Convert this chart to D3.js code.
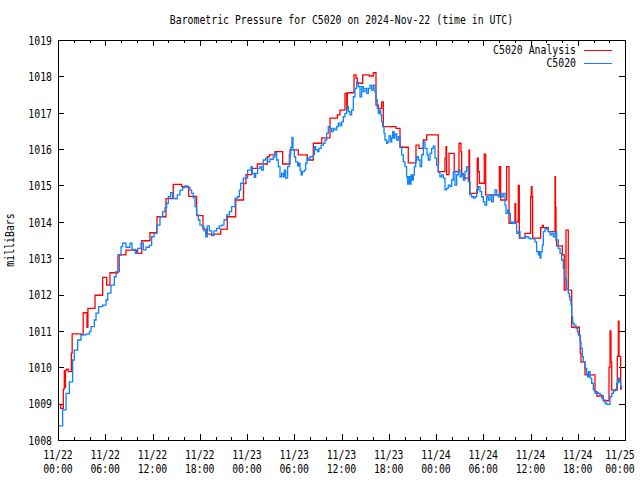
<!DOCTYPE html>
<html><head><meta charset="utf-8">
<script src="https://cdn.jsdelivr.net/npm/d3@7"></script>
<style>
body{margin:0;background:#fff;}
svg{display:block;background:#fff;}
text{font-family:"DejaVu Sans Mono",monospace;font-size:12px;fill:#000;}
</style></head><body>
<svg id="c" width="640" height="480"></svg>
<script>
const title = "Barometric Pressure for C5020 on 2024-Nov-22 (time in UTC)";
const yLabel = "milliBars";
const seriesNames = ["C5020 Analysis", "C5020"];
const seriesColors = ["#ff0000", "#0a84ff"];
const xTickHours = [0, 6, 12, 18, 24, 30, 36, 42, 48, 54, 60, 66, 72];
const xTickDates = ["11/22","11/22","11/22","11/22","11/23","11/23","11/23","11/23","11/24","11/24","11/24","11/24","11/25"];
const xTickTimes = ["00:00","06:00","12:00","18:00","00:00","06:00","12:00","18:00","00:00","06:00","12:00","18:00","00:00"];
const xMinorHours = [2,4,8,10,14,16,20,22,26,28,32,34,38,40,44,46,50,52,56,58,62,64,68,70];
const yTicks = [1008,1009,1010,1011,1012,1013,1014,1015,1016,1017,1018,1019];

// [hours since 2024-11-22 00:00 UTC, mb] — analysis (step values)
const analysis = [
[0,1008.98],[0.34,1008.87],[0.68,1009.4],[0.8,1009.9],[0.85,1009.45],[0.95,1009.92],[1.1,1009.95],[1.3,1009.88],[1.7,1010.39],[1.8,1010.92],[2.92,1010.9],[3.2,1011.5],[3.68,1011.1],[3.8,1011.62],[4.7,1011.98],[5.67,1012.47],[6.18,1012.26],[6.6,1012.6],[7.62,1013.09],[8.63,1013.22],[9.99,1013.13],[10.63,1013.48],[11.68,1013.7],[12.57,1014.14],[13.71,1014.64],[14.64,1015.03],[15.71,1014.97],[16.6,1014.7],[17.6,1014.17],[18.41,1013.8],[18.88,1013.66],[20.66,1013.8],[21.5,1014.14],[22.57,1014.6],[23.56,1015.05],
[23.87,1015.3],[24.6,1015.47],[25.31,1015.59],[26.58,1015.79],[26.83,1015.84],[27.56,1015.93],[28.53,1015.59],[29.46,1015.98],[30.51,1015.84],[31.66,1015.7],[32.42,1016.16],[33.49,1016.31],[34.54,1016.85],[35.47,1016.94],[35.81,1017.07],[36.44,1017.53],[36.66,1017.1],[36.74,1017.55],[37.59,1018.04],[37.84,1017.95],[38.01,1017.81],[38.69,1018.04],[39.53,1018.01],[40.04,1018.1],[40.38,1017.21],[40.67,1017.12],[41.1,1017.3],[41.31,1016.62],[42.92,1016.57],[43.43,1016.05],[44.48,1015.62],[45.46,1016.11],[45.84,1016.02],[46.39,1016.25],[46.82,1016.39],[48.29,1015.38],
[49.14,1015.75],[49.27,1016.07],[49.35,1015.3],[49.65,1015.88],[50.32,1015.38],[50.92,1016.16],[51.17,1015.93],[51.26,1015.29],[51.59,1015.2],[52.19,1015.97],[52.27,1014.78],[53.24,1015.75],[53.37,1015.38],[53.5,1015.06],[54.13,1015.86],[54.31,1014.74],[56.04,1015.52],[56.21,1014.6],[56.97,1015.52],[57.27,1013.96],[58.03,1014.5],[58.12,1014.0],[58.45,1015.0],[58.58,1013.55],[59.3,1013.68],[60.02,1014.69],[60.1,1014.97],[60.2,1014.7],[60.27,1013.55],[61.29,1013.84],[61.5,1013.9],[61.63,1013.84],[62.26,1013.73],[63.11,1015.24],[63.17,1014.4],[63.24,1013.5],[63.32,1013.34],[64.04,1013.09],[64.29,1012.12],[64.51,1013.77],[64.8,1012.12],[65.23,1011.1],[66.2,1010.87],[66.32,1010.38],[66.41,1010.14],[66.92,1009.79],[68.19,1009.33],[68.44,1009.21],[69.24,1009.08],[69.97,1010.0],[70.1,1011.0],[70.22,1010.15],[70.31,1009.37],[71.02,1010.3],[71.15,1011.27],[71.24,1010.3],[71.45,1009.4],[71.62,1009.4]
];

// [hours since 2024-11-22 00:00 UTC, mb] — station observations
const observed = [
[0.08,1008.39],[0.59,1008.83],[1.02,1009.28],[1.44,1009.6],[1.86,1010.2],[2.07,1010.47],[2.5,1010.75],[2.92,1010.89],[3.56,1010.91],[3.98,1010.98],[4.19,1011.12],[4.61,1011.3],[4.83,1011.49],[5.16,1011.67],[5.67,1011.71],[6.1,1011.85],[6.31,1012.04],[6.73,1012.26],[7.15,1012.49],[7.37,1012.63],[7.79,1013.09],[8.0,1013.32],[8.21,1013.41],[8.51,1013.41],[8.63,1013.3],[8.97,1013.3],[9.14,1013.41],[9.4,1013.24],[9.82,1013.13],[10.12,1013.27],[10.54,1013.41],[10.84,1013.23],[11.17,1013.3],[11.6,1013.35],
[11.89,1013.59],[12.2,1013.68],[12.53,1013.91],[12.95,1014.14],[13.29,1014.28],[13.59,1014.39],[13.8,1014.51],[14.01,1014.69],[14.31,1014.8],[14.56,1014.65],[14.86,1014.63],[15.15,1014.74],[15.49,1014.87],[15.83,1014.94],[16.13,1014.99],[16.42,1014.94],[16.76,1014.87],[16.97,1014.78],[17.18,1014.66],[17.4,1014.42],[17.61,1014.19],[17.82,1014.05],[18.03,1013.91],[18.33,1013.87],[18.54,1013.75],[18.75,1013.59],[18.96,1013.89],[19.22,1013.75],[19.51,1013.62],[19.81,1013.75],[20.15,1013.82],[20.49,1013.89],[20.78,1013.91],[21.08,1014.05],[21.42,1014.19],[21.76,1014.28],[22.05,1014.42],[22.48,1014.65],[22.77,1014.69],[23.03,1014.87],[23.2,1015.06],[23.53,1015.2],
[23.96,1015.2],[24.08,1015.42],[24.38,1015.42],[24.51,1015.52],[24.67,1015.33],[24.93,1015.22],[25.1,1015.33],[25.35,1015.47],[25.65,1015.52],[25.86,1015.42],[26.07,1015.7],[26.37,1015.75],[26.62,1015.65],[26.92,1015.72],[27.34,1015.79],[27.56,1015.9],[27.77,1015.7],[27.98,1015.52],[28.19,1015.24],[28.4,1015.33],[28.61,1015.24],[28.74,1015.42],[28.91,1015.2],[29.16,1015.52],[29.37,1015.84],[29.55,1016.05],[29.71,1016.32],[29.84,1015.98],[30.01,1015.79],[30.18,1015.65],[30.43,1015.54],[30.6,1015.61],[30.73,1015.42],[30.86,1015.29],[31.03,1015.38],[31.28,1015.42],[31.45,1015.61],[31.62,1015.75],[31.78,1015.7],[32.0,1015.79],[32.21,1015.79],[32.42,1015.84],[32.55,1016.07],[32.72,1015.98],[32.97,1015.93],[33.14,1016.02],[33.4,1016.11],[33.69,1016.16],[33.9,1016.25],[34.12,1016.43],[34.32,1016.62],[34.54,1016.57],[34.75,1016.48],[34.96,1016.57],[35.17,1016.53],[35.39,1016.62],[35.6,1016.71],
[35.81,1016.64],[36.02,1016.75],[36.23,1016.89],[36.44,1016.98],[36.66,1017.17],[36.87,1017.03],[37.08,1016.94],[37.29,1017.07],[37.5,1017.44],[37.71,1017.67],[37.93,1017.85],[38.14,1017.72],[38.35,1017.44],[38.56,1017.72],[38.77,1017.58],[38.98,1017.67],[39.2,1017.53],[39.41,1017.67],[39.62,1017.76],[39.83,1017.62],[40.04,1017.76],[40.25,1017.58],[40.38,1017.35],[40.55,1017.12],[40.68,1016.98],[40.8,1017.07],[40.97,1016.94],[41.1,1016.75],[41.23,1016.62],[41.4,1016.43],[41.52,1016.25],[41.74,1016.16],[41.86,1016.2],[42.03,1016.36],[42.25,1016.2],[42.37,1016.3],[42.5,1016.48],[42.67,1016.3],[42.79,1016.42],[43.01,1016.25],[43.21,1016.34],[43.43,1016.07],[43.64,1015.84],[43.85,1015.65],[44.06,1015.52],[44.27,1015.24],[44.4,1015.04],[44.57,1015.24],[44.7,1015.04],[44.83,1015.29],[44.99,1015.15],[45.12,1015.29],[45.25,1015.52],[45.42,1015.7],[45.55,1015.79],[45.76,1015.7],[45.97,1015.52],[46.18,1015.84],[46.39,1016.2],[46.6,1016.02],[46.86,1015.84],[47.02,1015.7],[47.24,1015.88],[47.45,1016.02],[47.66,1016.08],
[47.87,1015.75],[48.08,1015.55],[48.29,1015.36],[48.5,1015.24],[48.72,1015.29],[48.93,1015.2],[49.14,1014.88],[49.35,1014.92],[49.56,1015.01],[49.78,1014.97],[49.99,1015.15],[50.2,1015.38],[50.41,1015.01],[50.62,1015.29],[50.83,1015.43],[51.05,1015.24],[51.26,1015.33],[51.47,1015.15],[51.68,1015.38],[51.89,1015.52],[52.1,1015.1],[52.32,1014.74],[52.53,1014.69],[52.74,1014.65],[52.95,1014.69],[53.16,1014.88],[53.37,1014.97],[53.59,1014.83],[53.8,1014.69],[54.01,1014.55],[54.22,1014.46],[54.43,1014.69],[54.64,1014.6],[54.86,1014.74],[55.07,1014.55],[55.28,1014.74],[55.49,1014.88],[55.7,1014.74],[55.91,1014.69],[56.13,1014.78],[56.34,1014.69],[56.55,1014.78],[56.76,1014.46],[56.89,1014.23],[57.1,1014.33],[57.27,1014.23],[57.44,1014.0],[57.61,1013.96],[57.82,1014.0],[58.03,1013.96],[58.24,1013.68],[58.45,1013.73],[58.67,1013.55],[58.96,1013.55],[59.3,1013.59],[59.72,1013.56],
[59.94,1013.53],[60.36,1013.53],[60.57,1013.45],[60.78,1013.18],[60.99,1013.09],[61.1,1013.18],[61.21,1013.0],[61.33,1013.18],[61.5,1013.36],[61.63,1013.73],[61.84,1013.82],[62.05,1013.8],[62.26,1013.73],[62.48,1013.64],[62.69,1013.68],[62.9,1013.59],[63.11,1013.73],[63.32,1013.5],[63.53,1013.27],[63.75,1013.13],[63.96,1012.95],[64.04,1012.95],[64.17,1012.72],[64.3,1012.45],[64.42,1012.4],[64.59,1012.17],[64.8,1012.03],[64.93,1011.94],[65.02,1011.85],[65.14,1011.71],[65.23,1011.39],[65.35,1011.21],[65.52,1011.16],[65.65,1011.16],[65.78,1011.07],[65.95,1010.98],[66.07,1010.89],[66.29,1010.7],[66.41,1010.52],[66.58,1010.29],[66.71,1010.15],[66.92,1009.97],[67.13,1009.83],[67.26,1009.74],[67.39,1009.88],[67.56,1009.7],[67.77,1009.56],[67.98,1009.38],[68.19,1009.28],[68.4,1009.3],[68.61,1009.28],[68.83,1009.24],[69.04,1009.15],[69.25,1009.1],[69.46,1009.01],[69.67,1008.98],[69.97,1008.98],[70.1,1009.19],[70.31,1009.28],[70.52,1009.35],[70.77,1009.4],[70.94,1009.56],[71.11,1009.7],[71.28,1009.6],[71.45,1009.47],[71.58,1009.42]
];

const CW = 5.92; // glyph advance of the reference's monospace font
const svg = d3.select("#c");
const L = 58, R = 625, T = 40, B = 440;
const x = d3.scaleLinear().domain([0, 72]).range([L, R]);
const y = d3.scaleLinear().domain([1008, 1019]).range([B, T]);

function fit(sel) {
  sel.attr("textLength", function () { return this.textContent.length * CW; })
     .attr("lengthAdjust", "spacingAndGlyphs");
}

// axes: ticks point inward on all four sides (gnuplot style)
const axStyle = g => { g.select(".domain").remove(); g.selectAll("line").attr("stroke", "#000").attr("shape-rendering", "crispEdges"); };
svg.append("g").attr("transform", `translate(0,${B})`)
  .call(d3.axisBottom(x).tickValues(xTickHours).tickSizeInner(-6).tickSizeOuter(0).tickFormat(""))
  .call(axStyle).selectAll("text").remove();
svg.append("g").attr("transform", `translate(0,${B})`)
  .call(d3.axisBottom(x).tickValues(xMinorHours).tickSizeInner(-3).tickSizeOuter(0).tickFormat(""))
  .call(axStyle).selectAll("text").remove();
svg.append("g").attr("transform", `translate(0,${T})`)
  .call(d3.axisTop(x).tickValues(xTickHours).tickSizeInner(-6).tickSizeOuter(0).tickFormat(""))
  .call(axStyle).selectAll("text").remove();
svg.append("g").attr("transform", `translate(0,${T})`)
  .call(d3.axisTop(x).tickValues(xMinorHours).tickSizeInner(-3).tickSizeOuter(0).tickFormat(""))
  .call(axStyle).selectAll("text").remove();
const yl = svg.append("g").attr("transform", `translate(${L},0)`)
  .call(d3.axisLeft(y).tickValues(yTicks).tickSizeInner(-6).tickSizeOuter(0).tickPadding(6).tickFormat(d3.format("d")))
  .call(axStyle);
yl.selectAll("text").attr("font-family", null).attr("font-size", null).attr("fill", "#000").attr("dy", "0.36em").call(fit);
svg.append("g").attr("transform", `translate(${R},0)`)
  .call(d3.axisRight(y).tickValues(yTicks).tickSizeInner(-6).tickSizeOuter(0).tickFormat(""))
  .call(axStyle).selectAll("text").remove();

// x tick labels (two lines), kept inside the canvas
const labX = d => Math.min(x(d), 620);
const xl = svg.append("g");
xl.selectAll("text.d").data(xTickHours).join("text").attr("class", "d")
  .attr("x", labX).attr("y", B + 18.5).attr("text-anchor", "middle")
  .text((d, i) => xTickDates[i]).call(fit);
xl.selectAll("text.t").data(xTickHours).join("text").attr("class", "t")
  .attr("x", labX).attr("y", B + 32.5).attr("text-anchor", "middle")
  .text((d, i) => xTickTimes[i]).call(fit);

// series
const line = d3.line().x(d => x(d[0])).y(d => y(d[1])).curve(d3.curveStepAfter);
const plot = svg.append("g");
[analysis, observed].forEach((s, i) => {
  plot.append("path").datum(s).attr("d", line)
    .attr("fill", "none").attr("stroke", seriesColors[i]).attr("stroke-width", 1.3)
    .attr("stroke-linejoin", "miter");
});

// border
svg.append("rect").attr("x", L + 0.5).attr("y", T + 0.5).attr("width", R - L).attr("height", B - T)
  .attr("fill", "none").attr("stroke", "#000").attr("stroke-width", 1);

// title and axis label
svg.append("text").attr("x", (L + R) / 2).attr("y", 24).attr("text-anchor", "middle").text(title).call(fit);
svg.append("text").attr("transform", `translate(14,${(T + B) / 2}) rotate(-90)`).attr("text-anchor", "middle").text(yLabel).call(fit);

// legend
const lg = svg.append("g");
seriesNames.forEach((n, i) => {
  const yy = 50 + i * 13;
  lg.append("text").attr("x", 576).attr("y", yy + 4).attr("text-anchor", "end").text(n).call(fit);
  lg.append("line").attr("x1", 584).attr("x2", 612).attr("y1", yy + 0.5).attr("y2", yy + 0.5)
    .attr("stroke", seriesColors[i]).attr("stroke-width", 1);
});
</script></body></html>
